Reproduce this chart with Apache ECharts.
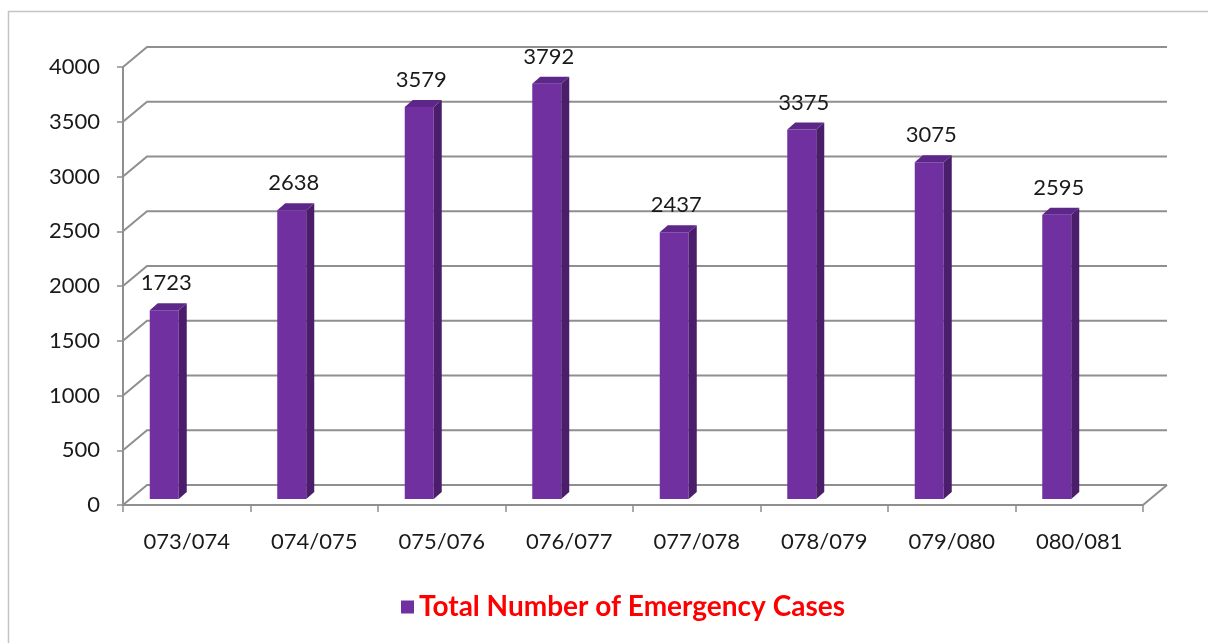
<!DOCTYPE html>
<html>
<head>
<meta charset="utf-8">
<script src="https://cdn.jsdelivr.net/npm/echarts@6/dist/echarts.min.js"></script>
<style>
html,body{margin:0;padding:0;background:#fff;}
#chart{width:1208px;height:643px;}
</style>
</head>
<body>
<div id="chart"></div>
<script>
var categories = ['073/074','074/075','075/076','076/077','077/078','078/079','079/080','080/081'];
var caseValues = [1723, 2638, 3579, 3792, 2437, 3375, 3075, 2595];
var yTicks = [0, 500, 1000, 1500, 2000, 2500, 3000, 3500, 4000];
var seriesName = 'Total Number of Emergency Cases';

var DX = 24, DY = -20;           // back wall offset
var GRID = '#8f8f8f';
var TEXT = '#1a1a1a';

var chart = echarts.init(document.getElementById('chart'));

chart.setOption({
  backgroundColor: '#ffffff',
  animation: false,
  graphic: [{
    type: 'polyline',
    shape: { points: [[8.5, 643], [8.5, 11.5], [1208, 11.5]] },
    style: { stroke: '#c4c4c4', lineWidth: 1.5, fill: null },
    silent: true
  }],
  grid: { left: 123, right: 65, top: 67, bottom: 138 },
  legend: {
    data: [seriesName],
    left: 396,
    top: 588,
    icon: 'rect',
    itemWidth: 13,
    itemHeight: 13,
    itemGap: 8,
    textStyle: { color: '#ff0000', fontWeight: 'bold', fontSize: 28, fontFamily: 'Lato' }
  },
  xAxis: {
    type: 'category',
    data: categories,
    axisLine: { show: true, lineStyle: { color: GRID, width: 2 } },
    axisTick: { show: true, alignWithLabel: false, length: 7, lineStyle: { color: GRID, width: 1.5 } },
    axisLabel: { color: TEXT, fontSize: 22, fontFamily: 'Lato', margin: 26 },
    splitLine: { show: false }
  },
  yAxis: {
    type: 'value',
    min: 0, max: 4000, interval: 500,
    axisLine: { show: true, lineStyle: { color: GRID, width: 2 } },
    axisTick: { show: true, length: 6, lineStyle: { color: GRID, width: 1.5 } },
    axisLabel: { color: TEXT, fontSize: 22, fontFamily: 'Lato', margin: 23,
      formatter: function (v) { return String(v); } },
    splitLine: { show: false }
  },
  series: [
    {
      type: 'custom',
      name: 'walls',
      silent: true,
      z: 1,
      data: yTicks.map(function (v) { return [0, v]; }),
      renderItem: function (params, api) {
        var cs = params.coordSys;
        var v = api.value(1);
        var y = api.coord([0, v])[1];
        var x0 = cs.x, x1 = cs.x + cs.width;
        var children = [{
          type: 'polyline',
          shape: { points: [[x0, y], [x0 + DX, y + DY], [x1 + DX, y + DY]] },
          style: { stroke: GRID, lineWidth: 2, fill: null }
        }];
        if (v === 0) {
          children.push({
            type: 'line',
            shape: { x1: x1, y1: y, x2: x1 + DX, y2: y + DY },
            style: { stroke: GRID, lineWidth: 2 }
          });
        }
        return { type: 'group', children: children };
      }
    },
    {
      type: 'custom',
      name: seriesName,
      z: 3,
      itemStyle: { color: '#7030A0' },
      data: caseValues.map(function (v, i) { return [i, v]; }),
      renderItem: function (params, api) {
        var idx = api.value(0), val = api.value(1);
        var pTop = api.coord([idx, val]);
        var pBot = api.coord([idx, 0]);
        var cx = pTop[0] - 22.5;
        var half = 14.5;
        var lx = cx - half, rx = cx + half;
        var ty = pTop[1] - 6, by = pBot[1] - 6;
        var dx = 8, dy = -7;
        return {
          type: 'group',
          children: [
            { type: 'rect', shape: { x: lx, y: ty, width: rx - lx, height: by - ty },
              style: { fill: '#7030A0' } },
            { type: 'polygon', shape: { points: [[rx, ty], [rx + dx, ty + dy], [rx + dx, by + dy], [rx, by]] },
              style: { fill: '#4a1e6b' } },
            { type: 'polygon', shape: { points: [[lx, ty], [lx + dx, ty + dy], [rx + dx, ty + dy], [rx, ty]] },
              style: { fill: '#5d2689' } },
            { type: 'text', style: { text: String(val), x: cx + 2, y: ty + dy - 9,
                textAlign: 'center', textVerticalAlign: 'bottom',
                fontSize: 22, fontFamily: 'Lato', fill: TEXT } }
          ]
        };
      }
    }
  ]
});
</script>
</body>
</html>
